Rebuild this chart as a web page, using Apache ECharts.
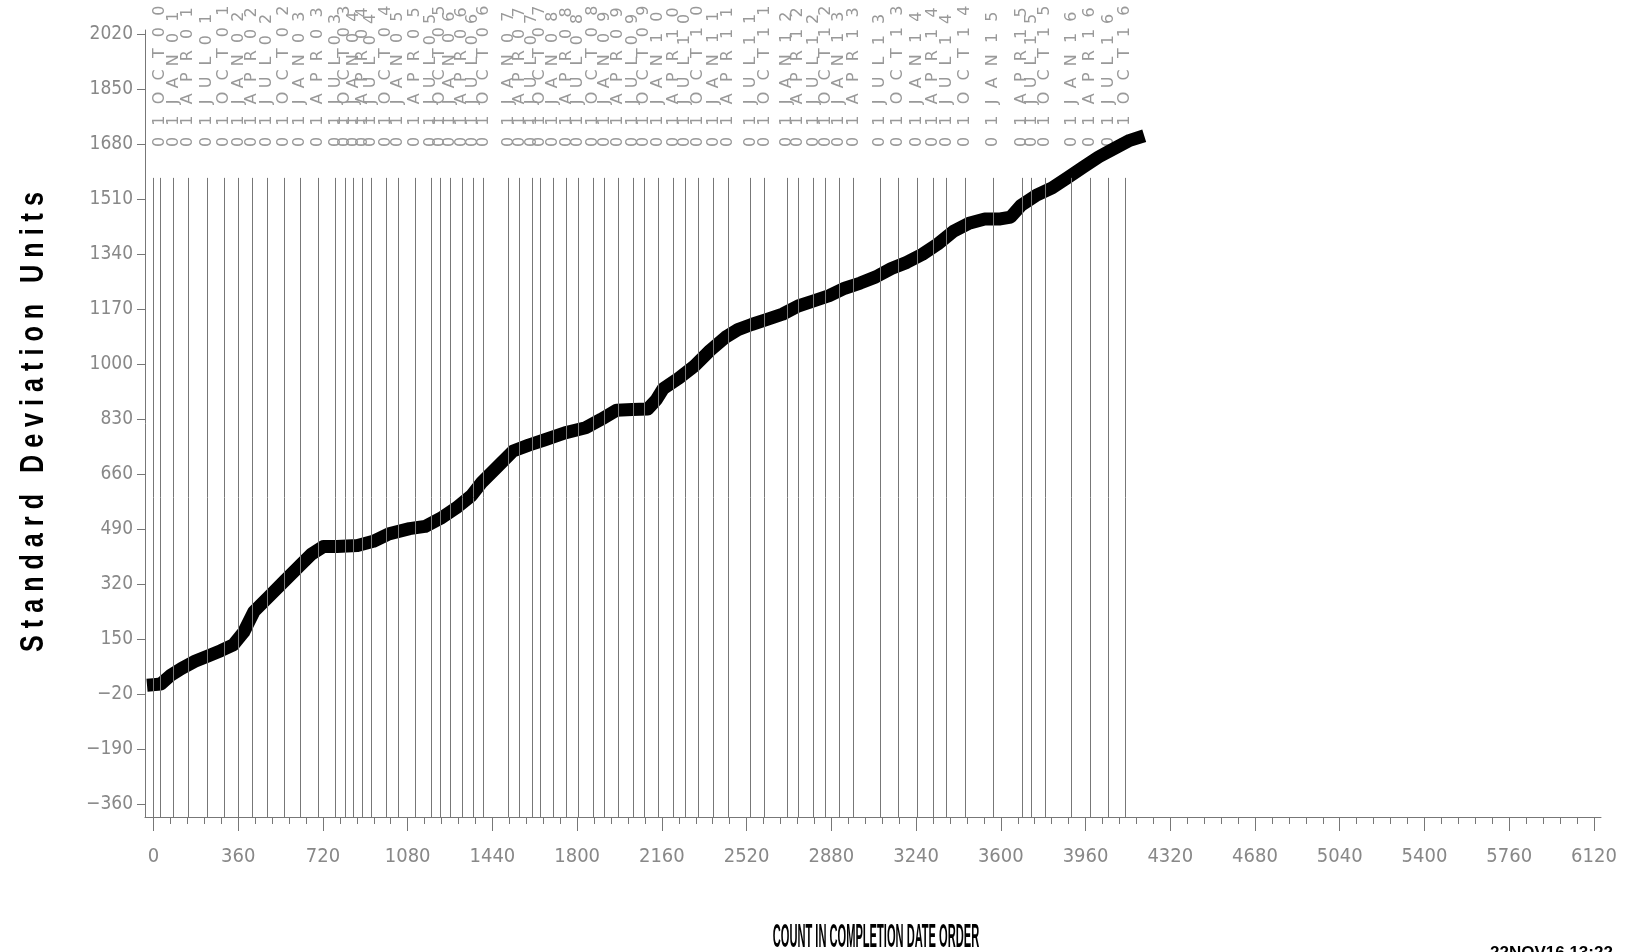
<!DOCTYPE html>
<html>
<head>
<meta charset="utf-8">
<script src="https://cdn.jsdelivr.net/npm/echarts@6/dist/echarts.min.js"></script>
<style>
html,body{margin:0;padding:0;background:#fff;}
#chart{width:1625px;height:952px;}
</style>
</head>
<body>
<div id="chart"></div>
<script>
// cumulative curve
var counts = [0,31,75,119,176,229,286,339,383,427,493,559,625,669,722,779,867,934,1000,1088,
  1154,1220,1286,1352,1396,1462,1528,1594,1660,1748,1836,1902,1968,2034,2100,2136,2166,2232,2299,2365,
  2431,2483,2541,2607,2673,2739,2805,2871,2937,3003,3069,3135,3201,3267,3333,3399,3465,3532,3598,3642,
  3686,3752,3818,3884,3950,4016,4082,4148,4183];
var sdUnits = [10,12,40,60,82,98,115,133,172,236,284,332,380,412,437,437,440,453,476,492,
  499,524,556,595,636,684,732,750,766,788,804,830,858,860,862,890,925,957,995,1043,
  1084,1107,1123,1139,1155,1180,1196,1212,1235,1251,1270,1296,1315,1340,1372,1411,1436,1449,1449,1455,
  1491,1523,1545,1577,1609,1641,1667,1692,1700];

// date reference lines (count where each date falls)
var dateCounts = [1,28,85,147,228,299,361,418,483,555,623,698,774,814,850,888,924,988,1039,1111,
  1179,1218,1260,1311,1359,1402,1508,1556,1608,1642,1698,1755,1804,1867,1917,1974,2037,2084,2143,2209,
  2258,2314,2379,2442,2536,2597,2692,2738,2805,2856,2913,2974,3087,3163,3243,3313,3370,3448,3568,3689,
  3731,3788,3901,3979,4057,4128];
var dateLabels = ['15AUG00','01OCT00',
  '01JAN01','01APR01','01JUL01','01OCT01','01JAN02','01APR02','01JUL02','01OCT02',
  '01JAN03','01APR03','01JUL03','01OCT03','01JAN04','01APR04','01JUL04','01OCT04',
  '01JAN05','01APR05','01JUL05','01OCT05','01JAN06','01APR06','01JUL06','01OCT06',
  '01JAN07','01APR07','01JUL07','01OCT07','01JAN08','01APR08','01JUL08','01OCT08',
  '01JAN09','01APR09','01JUL09','01OCT09','01JAN10','01APR10','01JUL10','01OCT10',
  '01JAN11','01APR11','01JUL11','01OCT11','01JAN12','01APR12','01JUL12','01OCT12',
  '01JAN13','01APR13','01JUL13','01OCT13','01JAN14','01APR14','01JUL14','01OCT14',
  '01JAN15','01APR15','01JUL15','01OCT15','01JAN16','01APR16','01JUL16','01OCT16'];

var xTicks = [0,360,720,1080,1440,1800,2160,2520,2880,3240,3600,3960,4320,4680,5040,5400,5760,6120];
var yTicks = [-360,-190,-20,150,320,490,660,830,1000,1170,1340,1510,1680,1850,2020];

var xMin = -36, xMax = 6150, yMin = -399, yMax = 2033, dateLineTop = 1576;

var minorTicks = [];
for (var i = 0; i < xTicks.length - 1; i++) {
  for (var k = 1; k < 5; k++) {
    minorTicks.push(xTicks[i] + (xTicks[i+1] - xTicks[i]) * k / 5);
  }
}

var narrow = "'Liberation Sans Narrow','DejaVu Sans Condensed','Liberation Sans',sans-serif";
var labelMap = {};
dateCounts.forEach(function(c, i){
  labelMap[c] = dateLabels[i].split('').join('\u2002\u2009');
});
function plain(v){ return String(v).replace('-', '\u2212'); }

var chart = echarts.init(document.getElementById('chart'));
var option = {
  animation: false,
  backgroundColor: '#fff',
  grid: {left: 145, right: 24, top: 30, bottom: 135},
  xAxis: [
    {
      type: 'value', min: xMin, max: xMax, position: 'bottom',
      splitLine: {show: false},
      axisLine: {show: true, onZero: false, lineStyle: {color: '#777', width: 1}},
      axisTick: {show: true, customValues: xTicks, length: 14, lineStyle: {color: '#777'}},
      axisLabel: {customValues: xTicks, margin: 30, color: '#888', fontSize: 20, fontFamily: narrow, formatter: plain}
    },
    {
      type: 'value', min: xMin, max: xMax, position: 'bottom',
      splitLine: {show: false},
      axisLine: {show: false, onZero: false},
      axisTick: {show: true, customValues: minorTicks, length: 7, lineStyle: {color: '#777'}},
      axisLabel: {show: false}
    },
    {
      type: 'value', min: xMin, max: xMax, position: 'top', offset: -120,
      splitLine: {show: false},
      axisLine: {show: false, onZero: false},
      axisTick: {show: false},
      axisLabel: {
        customValues: dateCounts, rotate: -90, margin: 3,
        color: '#999', fontSize: 16, fontFamily: 'DejaVu Sans',
        formatter: function(v){ return labelMap[v] || ''; }
      }
    }
  ],
  yAxis: {
    type: 'value', min: yMin, max: yMax,
    splitLine: {show: false},
    axisLine: {show: true, onZero: false, lineStyle: {color: '#777', width: 1}},
    axisTick: {show: true, customValues: yTicks, length: 8, lineStyle: {color: '#777'}},
    axisLabel: {customValues: yTicks, margin: 12, color: '#888', fontSize: 19, fontFamily: narrow, formatter: plain}
  },
  series: [
    {
      type: 'line', name: 'dates', data: [], xAxisIndex: 0, z: 1, silent: true,
      markLine: {
        symbol: 'none', silent: true, animation: false,
        label: {show: false},
        lineStyle: {color: '#777', width: 1, type: 'solid'},
        data: dateCounts.map(function(c){
          return [{coord: [c, dateLineTop]}, {coord: [c, yMin]}];
        })
      }
    },
    {
      type: 'line', name: 'sd', xAxisIndex: 0, z: 3,
      data: counts.map(function(c, i){ return [c, sdUnits[i]]; }),
      showSymbol: false, symbol: 'none',
      lineStyle: {color: '#000', width: 13, cap: 'square', join: 'round'}
    }
  ],
  graphic: [
    {
      type: 'text', x: 34, y: 422, rotation: Math.PI / 2, scaleX: 0.74,
      style: {text: 'S t a n d a r d   D e v i a t i o n   U n i t s', font: 'bold 34px "Liberation Sans"',
        fill: '#000', align: 'center', verticalAlign: 'middle'}
    },
    {
      type: 'text', x: 876, y: 938, scaleX: 0.37, scaleY: 1.08,
      style: {text: 'COUNT IN COMPLETION DATE ORDER', font: 'bold 30px "Liberation Sans"',
        fill: '#000', align: 'center', verticalAlign: 'middle'}
    },
    {
      type: 'text', x: 1490, y: 945,
      style: {text: '22NOV16 13:22', font: 'bold 17px "Liberation Sans"', fill: '#000',
        align: 'left', verticalAlign: 'top'}
    }
  ]
};
chart.setOption(option);
</script>
</body>
</html>
